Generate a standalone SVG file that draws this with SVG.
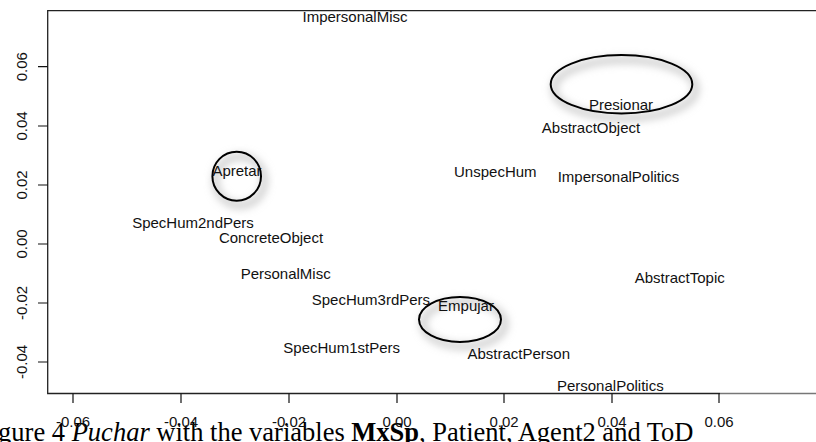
<svg xmlns="http://www.w3.org/2000/svg" width="816" height="442" viewBox="0 0 816 442">
<defs>
<style>
.lbl{font-family:"Liberation Sans",Arial,sans-serif;font-size:15px;fill:#111;text-anchor:middle}
.tick{font-family:"Liberation Sans",Arial,sans-serif;font-size:15px;fill:#111;text-anchor:middle}
.ax{stroke:#222;stroke-width:1.3;fill:none}
.tk{stroke:#111;stroke-width:1.2}
.ring{fill:none;stroke:#000;stroke-width:2}
.cap{font-family:"Liberation Serif","Times New Roman",serif;font-size:26.5px;fill:#000}
</style>
<filter id="sh" x="-30%" y="-30%" width="160%" height="170%">
<feGaussianBlur stdDeviation="4"/>
</filter>
</defs>
<rect width="816" height="442" fill="#fff"/>
<g id="frame">
<path class="ax" d="M816,10.7H47.7V393.5H720"/>
<path d="M720,393.5H816" stroke="#777" stroke-width="1.3"/>
<g class="tk">
<path d="M38,66.7H47.7M38,126H47.7M38,185H47.7M38,244H47.7M38,303H47.7M38,362H47.7"/>
<path d="M73,393.5V403M181,393.5V403M289,393.5V403M397,393.5V403M504,393.5V403M612,393.5V403M719,393.5V403"/>
</g>
<g class="tick">
<text transform="translate(27,66.7) rotate(-90)">0.06</text>
<text transform="translate(27,126) rotate(-90)">0.04</text>
<text transform="translate(27,185) rotate(-90)">0.02</text>
<text transform="translate(27,244) rotate(-90)">0.00</text>
<text transform="translate(27,303) rotate(-90)">-0.02</text>
<text transform="translate(27,362) rotate(-90)">-0.04</text>
</g>
</g>
<g id="caption">
<text class="cap" x="-24" y="441">Figure 4 <tspan font-style="italic">Puchar</tspan> with the variables <tspan font-weight="bold">MxSp</tspan>, Patient, Agent2 and ToD</text>
</g>
<g id="xticks" class="tick">
<text x="73" y="427">-0.06</text>
<text x="181" y="427">-0.04</text>
<text x="289" y="427">-0.02</text>
<text x="397" y="427">0.00</text>
<text x="504" y="427">0.02</text>
<text x="612" y="427">0.04</text>
<text x="719" y="427">0.06</text>
</g>
<g id="rings">
<g id="ring-presionar">
<ellipse cx="625" cy="89" rx="71" ry="29" fill="none" stroke="#bbb" stroke-width="5" filter="url(#sh)"/>
<ellipse class="ring" cx="621.5" cy="84.2" rx="70.8" ry="29.2"/>
</g>
<g id="ring-apretar">
<ellipse cx="240" cy="181" rx="24.5" ry="24.5" fill="none" stroke="#bbb" stroke-width="5" filter="url(#sh)"/>
<ellipse class="ring" cx="236.7" cy="176.2" rx="24.3" ry="24.5"/>
</g>
<g id="ring-empujar">
<ellipse cx="464" cy="324" rx="41" ry="22.5" fill="none" stroke="#bbb" stroke-width="5" filter="url(#sh)"/>
<ellipse class="ring" cx="460" cy="319.5" rx="41" ry="22.5"/>
</g>
</g>
<g id="labels">
<g id="n-ImpersonalMisc"><text class="lbl" x="355" y="21.5">ImpersonalMisc</text></g>
<g id="n-Presionar"><text class="lbl" x="621" y="110">Presionar</text></g>
<g id="n-AbstractObject"><text class="lbl" x="591" y="133">AbstractObject</text></g>
<g id="n-Apretar"><text class="lbl" x="237" y="176">Apretar</text></g>
<g id="n-UnspecHum"><text class="lbl" x="495.3" y="177">UnspecHum</text></g>
<g id="n-ImpersonalPolitics"><text class="lbl" x="618.5" y="182">ImpersonalPolitics</text></g>
<g id="n-SpecHum2ndPers"><text class="lbl" x="193" y="227.5">SpecHum2ndPers</text></g>
<g id="n-ConcreteObject"><text class="lbl" x="271" y="242.7">ConcreteObject</text></g>
<g id="n-PersonalMisc"><text class="lbl" x="285.7" y="279">PersonalMisc</text></g>
<g id="n-AbstractTopic"><text class="lbl" x="679.7" y="282.7">AbstractTopic</text></g>
<g id="n-SpecHum3rdPers"><text class="lbl" x="370.9" y="305">SpecHum3rdPers</text></g>
<g id="n-Empujar"><text class="lbl" x="466" y="311">Empujar</text></g>
<g id="n-SpecHum1stPers"><text class="lbl" x="341.7" y="353.3">SpecHum1stPers</text></g>
<g id="n-AbstractPerson"><text class="lbl" x="518.7" y="359.3">AbstractPerson</text></g>
<g id="n-PersonalPolitics"><text class="lbl" x="610.3" y="390.7">PersonalPolitics</text></g>
</g>
</svg>
